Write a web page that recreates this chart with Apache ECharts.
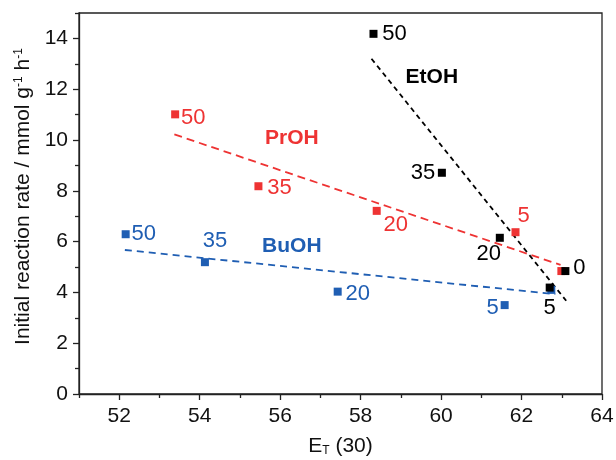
<!DOCTYPE html>
<html>
<head>
<meta charset="utf-8">
<script src="https://cdn.jsdelivr.net/npm/echarts@6/dist/echarts.min.js"></script>
<style>
html,body{margin:0;padding:0;background:#fff;}
#chart{width:616px;height:460px;}
</style>
</head>
<body>
<div id="chart"></div>
<script>
// ---- data ----
var labelsEtOH = ['50', '35', '20', '5', '0'];
var etohX = [58.32, 60.02, 61.46, 62.70, 63.09];
var etohY = [14.18, 8.71, 6.15, 4.19, 4.84];

var labelsPrOH = ['50', '35', '20', '5', '0'];
var prohX = [53.39, 55.46, 58.40, 61.85, 62.99];
var prohY = [11.01, 8.18, 7.21, 6.37, 4.84];

var labelsBuOH = ['50', '35', '20', '5', ''];
var buohX = [52.16, 54.13, 57.43, 61.58, 62.74];
var buohY = [6.29, 5.19, 4.03, 3.50, 4.10];

var fitEtOH = [[58.27, 13.20], [63.11, 3.67]];
var fitPrOH = [[53.37, 10.22], [62.97, 5.08]];
var fitBuOH = [[52.14, 5.67], [62.84, 3.93]];

var seriesNames = ['EtOH', 'PrOH', 'BuOH'];
var seriesNameAt = [[59.77, 12.48], [56.29, 10.06], [56.29, 5.80]];

var xMajor = [52, 54, 56, 58, 60, 62, 64];
var xMinor = [51, 53, 55, 57, 59, 61, 63];
var yMajor = [0, 2, 4, 6, 8, 10, 12, 14];
var yMinor = [1, 3, 5, 7, 9, 11, 13, 15];

// ---- styles ----
var BLACK = '#000000', RED = '#ee3333', BLUE = '#1f5eb3';
var offEtOH = [[21, 0], [-19, 0], [-11, 16], [0, 20], [14, -3]];
var offPrOH = [[18, 4], [21, 2], [19, 14], [8, -16], [0, 0]];
var offBuOH = [[18, 0], [10, -21], [20, 2], [-12, 3], [0, 0]];
var FONT = '"Liberation Sans", Arial, Helvetica, sans-serif';

function pts(xs, ys, labels, offs, color, showLast) {
  return xs.map(function (x, i) {
    return {
      value: [x, ys[i]],
      label: {
        show: labels[i] !== '' && (showLast || i < xs.length - 1),
        formatter: labels[i],
        position: 'inside',
        offset: offs[i],
        color: color,
        fontSize: 22,
        fontFamily: FONT
      }
    };
  });
}

function scatter(name, data, color) {
  return {
    name: name, type: 'scatter', symbol: 'rect', symbolSize: 8,
    xAxisIndex: 0, yAxisIndex: 0,
    itemStyle: { color: color, opacity: 1 }, data: data, z: 5
  };
}

function fit(data, color, dash) {
  return {
    type: 'line', data: data, showSymbol: false, symbol: 'none',
    xAxisIndex: 0, yAxisIndex: 0, silent: true,
    lineStyle: { color: color, width: 1.8, type: dash, opacity: 1 }, z: 3
  };
}

var nameColors = [BLACK, RED, BLUE];
var nameSeries = {
  type: 'scatter', symbolSize: 0, silent: true,
  xAxisIndex: 0, yAxisIndex: 0,
  itemStyle: { opacity: 1 },
  data: seriesNames.map(function (n, i) {
    return {
      value: seriesNameAt[i],
      label: {
        show: true, formatter: n, position: 'inside',
        color: nameColors[i], fontSize: 21, fontWeight: 'bold', fontFamily: FONT
      }
    };
  })
};

var axisCol = '#222';
var chart = echarts.init(document.getElementById('chart'));
chart.setOption({
  animation: false,
  backgroundColor: '#fff',
  grid: { left: 79, right: 14, top: 13, bottom: 66, outerBoundsMode: 'none', containLabel: false,
    show: true, borderColor: axisCol, borderWidth: 1.3, backgroundColor: 'transparent' },
  xAxis: [{
    type: 'value', min: 51, max: 64, position: 'bottom',
    axisLine: { show: true, onZero: false, lineStyle: { color: axisCol, width: 1.3 } },
    axisTick: { show: true, inside: false, length: 6, customValues: xMajor, lineStyle: { color: axisCol, width: 1.3 } },
    axisLabel: { show: true, customValues: xMajor, color: '#111', fontSize: 21, fontFamily: FONT, margin: 12 },
    splitLine: { show: false },
    name: 'E{sub|T} (30)', nameLocation: 'middle', nameGap: 41,
    nameTextStyle: { color: '#111', fontSize: 21, fontFamily: FONT,
      rich: { sub: { fontSize: 12, fontFamily: FONT, color: '#111', verticalAlign: 'bottom', padding: [10, 0, 0, 0] } } }
  }, {
    type: 'value', min: 51, max: 64, position: 'bottom', gridIndex: 0,
    axisLine: { show: false },
    axisTick: { show: true, length: 4, customValues: xMinor, lineStyle: { color: axisCol, width: 1.3 } },
    axisLabel: { show: false }, splitLine: { show: false }
  }],
  yAxis: [{
    type: 'value', min: 0, max: 15, position: 'left',
    axisLine: { show: true, onZero: false, lineStyle: { color: axisCol, width: 1.3 } },
    axisTick: { show: true, length: 6, customValues: yMajor, lineStyle: { color: axisCol, width: 1.3 } },
    axisLabel: { show: true, customValues: yMajor, color: '#111', fontSize: 21, fontFamily: FONT, margin: 11 },
    splitLine: { show: false },
    name: 'Initial reaction rate / mmol g{sup|-1} h{sup|-1}', nameLocation: 'middle', nameGap: 44,
    nameTextStyle: { color: '#111', fontSize: 21, fontFamily: FONT, padding: [0, 0, 0, 14],
      rich: { sup: { fontSize: 12, fontFamily: FONT, color: '#111', verticalAlign: 'top', padding: [0, 0, 10, 0] } } }
  }, {
    type: 'value', min: 0, max: 15, position: 'left', gridIndex: 0,
    axisLine: { show: false },
    axisTick: { show: true, length: 4, customValues: yMinor, lineStyle: { color: axisCol, width: 1.3 } },
    axisLabel: { show: false }, splitLine: { show: false }
  }],
  series: [
    fit(fitBuOH, BLUE, [7, 5]),
    fit(fitPrOH, RED, [8, 5]),
    fit(fitEtOH, BLACK, [5, 4]),
    scatter('BuOH', pts(buohX, buohY, labelsBuOH, offBuOH, BLUE, false), BLUE),
    scatter('PrOH', pts(prohX, prohY, labelsPrOH, offPrOH, RED, false), RED),
    scatter('EtOH', pts(etohX, etohY, labelsEtOH, offEtOH, BLACK, true), BLACK),
    nameSeries
  ]
});
</script>
</body>
</html>
